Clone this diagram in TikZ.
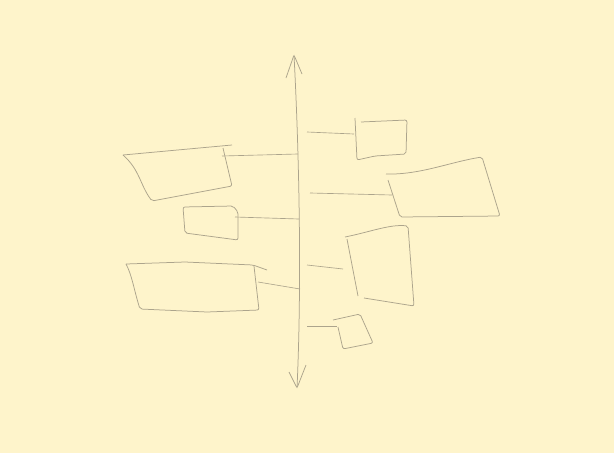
\documentclass[tikz,border=0pt]{standalone}
\usetikzlibrary{arrows.meta}
\definecolor{paper}{RGB}{254,244,203}
\definecolor{pencil}{RGB}{172,164,140}

\begin{document}
\begin{tikzpicture}[
    x=1pt, y=-1pt,
    stroke/.style={draw=pencil, line width=0.75pt, rounded corners=2pt},
    link/.style={draw=pencil, line width=0.65pt}
]
\fill[paper] (0,0) rectangle (614,453);
\useasboundingbox (0,0) rectangle (614,453);

% time axis
\coordinate (top) at (294,55);
\coordinate (bot) at (297,388);
\draw[stroke] (top) .. controls (299,150) and (302,280) .. (bot);
\draw[stroke] (286,78) -- (top) -- (302,74);
\draw[stroke] (289,372) -- (bot) -- (306,365);

% left side
\draw[stroke] (123,155) -- (232,145);
\draw[stroke] (223,148) -- (232,186) -- (152,201) .. controls (140,185) and (140,170) .. (123,155);
\coordinate (l1) at (222,156);
\draw[link] (l1) -- (298,154);

\draw[stroke] (183,207) -- (233,206) -- (238,212) -- (238,240) -- (185,233) -- cycle;
\coordinate (l2) at (235,217);
\draw[link] (l2) -- (299,219);

\draw[stroke] (126,264) -- (185,262) -- (253,265) -- (267,270);
\draw[stroke] (254,266) -- (259,310) -- (207,312) -- (140,309) .. controls (134,290) and (132,275) .. (126,264);
\coordinate (l3) at (258,282);
\draw[link] (l3) -- (300,289);

% right side
\draw[stroke] (355,118) -- (357,160) -- (375,156) -- (406,154) -- (407,120) -- (361,122);
\coordinate (r1) at (354,134);
\draw[link] (307,132) -- (r1);

\draw[stroke] (386,174) .. controls (420,175) and (450,162) .. (482,157) -- (500,216) -- (400,217) -- (388,180);
\coordinate (r2) at (392,195);
\draw[link] (310,193) -- (r2);

\draw[stroke] (345,237) .. controls (370,232) and (390,224) .. (408,226) -- (414,306) -- (364,298);
\draw[stroke] (347,239) -- (358,296);
\coordinate (r3) at (343,269);
\draw[link] (307,265) -- (r3);

\draw[stroke] (333,320) -- (360,314) -- (373,343) -- (343,349) -- (338,327);
\coordinate (r4) at (337,326);
\draw[link] (307,326) -- (r4);
\end{tikzpicture}
\end{document}
